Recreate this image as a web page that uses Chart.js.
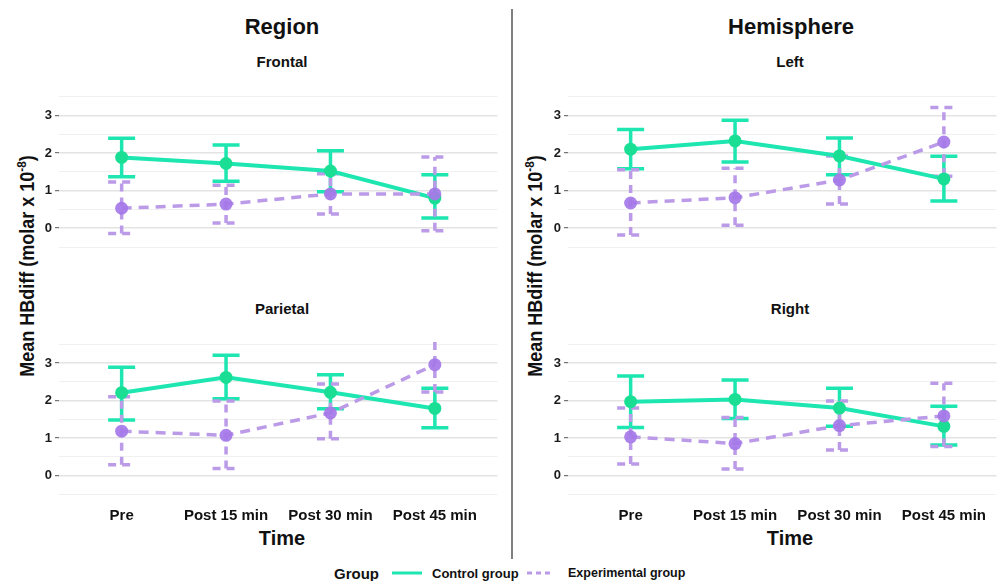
<!DOCTYPE html>
<html><head><meta charset="utf-8">
<script src="https://cdn.jsdelivr.net/npm/chart.js@4.4.1/dist/chart.umd.min.js"></script>
<style>
html,body{margin:0;padding:0;background:#fff;overflow:hidden}
#wrap{position:relative;width:1003px;height:581px;background:#fff;font-family:"Liberation Sans",Arial,Helvetica,sans-serif;color:#111}
canvas{position:absolute}
.t{position:absolute;white-space:nowrap;transform:translate(-50%,-50%);font-weight:bold;line-height:1}
.l{position:absolute;white-space:nowrap;transform:translateY(-50%);font-weight:bold;line-height:1}
</style></head><body>
<div id="wrap">
  <div class="t" style="left:282px;top:27px;font-size:22px">Region</div>
  <div class="t" style="left:791px;top:27px;font-size:22px">Hemisphere</div>
  <div class="t" style="left:282px;top:61px;font-size:15px">Frontal</div>
  <div class="t" style="left:790px;top:61px;font-size:15px">Left</div>
  <div class="t" style="left:282px;top:308px;font-size:15px">Parietal</div>
  <div class="t" style="left:790px;top:308px;font-size:15px">Right</div>
  <div class="t" style="left:282px;top:538px;font-size:20px">Time</div>
  <div class="t" style="left:790px;top:538px;font-size:20px">Time</div>
  <div class="t" style="left:27px;top:266px;font-size:20px;transform:translate(-50%,-50%) rotate(-90deg) scaleX(0.9)">Mean HBdiff (molar x 10<sup style="font-size:13px;vertical-align:8px;line-height:0">-8</sup>)</div>
  <div class="t" style="left:535px;top:266px;font-size:20px;transform:translate(-50%,-50%) rotate(-90deg) scaleX(0.9)">Mean HBdiff (molar x 10<sup style="font-size:13px;vertical-align:8px;line-height:0">-8</sup>)</div>
  <div style="position:absolute;left:511px;top:9px;width:1.5px;height:550px;background:#808080"></div>
  <div class="l" style="left:334px;top:573px;font-size:15px">Group</div>
  <svg style="position:absolute;left:390px;top:566px" width="34" height="14"><line x1="2" y1="7" x2="32" y2="7" stroke="#1DE6B0" stroke-width="3"/></svg>
  <div class="l" style="left:432px;top:573px;font-size:13px">Control group</div>
  <svg style="position:absolute;left:524px;top:566px" width="34" height="14"><line x1="3" y1="7" x2="30" y2="7" stroke="#BB9BE8" stroke-width="3" stroke-dasharray="5 4"/></svg>
  <div class="l" style="left:568px;top:573px;font-size:12.5px">Experimental group</div>
  <canvas id="c1" width="503" height="197" style="left:1px;top:90px"></canvas>
  <canvas id="c2" width="493" height="197" style="left:510px;top:90px"></canvas>
  <canvas id="c3" width="503" height="196" style="left:1px;top:338px"></canvas>
  <canvas id="c4" width="493" height="196" style="left:510px;top:338px"></canvas>
</div>
<script>
const categories = ['Pre', 'Post 15 min', 'Post 30 min', 'Post 45 min'];
const yTicks = [0, 1, 2, 3];

// Frontal
const frontalCtrl   = [1.88, 1.72, 1.52, 0.80];
const frontalCtrlLo = [1.37, 1.25, 0.97, 0.27];
const frontalCtrlHi = [2.39, 2.21, 2.06, 1.42];
const frontalExp    = [0.53, 0.64, 0.91, 0.91];
const frontalExpLo  = [-0.14, 0.14, 0.38, -0.07];
const frontalExpHi  = [1.23, 1.14, 1.45, 1.89];
// Left
const leftCtrl   = [2.10, 2.32, 1.92, 1.31];
const leftCtrlLo = [1.58, 1.76, 1.42, 0.72];
const leftCtrlHi = [2.62, 2.87, 2.40, 1.91];
const leftExp    = [0.67, 0.81, 1.28, 2.29];
const leftExpLo  = [-0.18, 0.08, 0.64, 1.38];
const leftExpHi  = [1.55, 1.59, 1.92, 3.21];
// Parietal
const parietalCtrl   = [2.21, 2.62, 2.22, 1.79];
const parietalCtrlLo = [1.48, 2.05, 1.78, 1.27];
const parietalCtrlHi = [2.89, 3.21, 2.69, 2.33];
const parietalExp    = [1.18, 1.07, 1.67, 2.96];
const parietalExpLo  = [0.28, 0.18, 0.98, 2.23];
const parietalExpHi  = [2.10, 1.99, 2.44, 3.72];
// Right
const rightCtrl   = [1.97, 2.03, 1.80, 1.31];
const rightCtrlLo = [1.28, 1.52, 1.31, 0.81];
const rightCtrlHi = [2.66, 2.55, 2.33, 1.85];
const rightExp    = [1.03, 0.85, 1.33, 1.59];
const rightExpLo  = [0.30, 0.17, 0.68, 0.77];
const rightExpHi  = [1.80, 1.55, 1.99, 2.46];

const CTRL_LINE = '#1DE6B0', CTRL_PT = '#1ADE94';
const EXP_LINE = '#BB9BE8', EXP_PT = 'rgba(164,120,232,0.92)';
const FONT = '"Liberation Sans", Arial, Helvetica, sans-serif';

const errorBars = {
  id: 'errorBars',
  beforeDatasetsDraw(chart) {
    const ctx = chart.ctx, xs = chart.scales.x, ys = chart.scales.y;
    ctx.save();
    for (const di of [0, 1]) {
      const ds = chart.data.datasets[di];
      ctx.strokeStyle = ds.barColor;
      ctx.lineWidth = ds.barWidth;
      ctx.setLineDash(ds.barDash);
      ds.data.forEach((p, i) => {
        const x = xs.getPixelForValue(p.x);
        const yl = ys.getPixelForValue(ds.errLo[i]);
        const yh = ys.getPixelForValue(ds.errHi[i]);
        const hw = 13.5;
        ctx.beginPath();
        ctx.moveTo(x, yl); ctx.lineTo(x, yh);
        ctx.moveTo(x - hw, yl); ctx.lineTo(x + hw, yl);
        ctx.moveTo(x - hw, yh); ctx.lineTo(x + hw, yh);
        ctx.stroke();
      });
    }
    ctx.restore();
  }
};

function makeChart(id, ctrl, cLo, cHi, exp, eLo, eHi, xmax, showX) {
  const toPts = arr => arr.map((v, i) => ({ x: i + 1, y: v }));
  return new Chart(document.getElementById(id), {
    type: 'line',
    data: {
      datasets: [
        { label: 'Control group', data: toPts(ctrl), errLo: cLo, errHi: cHi,
          borderColor: CTRL_LINE, borderWidth: 4, pointRadius: 6.5, pointHoverRadius: 6.5,
          pointBackgroundColor: CTRL_PT, pointBorderWidth: 0, order: 2,
          barColor: CTRL_LINE, barWidth: 3.5, barDash: [] },
        { label: 'Experimental group', data: toPts(exp), errLo: eLo, errHi: eHi,
          borderColor: EXP_LINE, borderWidth: 3.5, borderDash: [10, 7], pointRadius: 6.5, pointHoverRadius: 6.5,
          pointBackgroundColor: EXP_PT, pointBorderWidth: 0, order: 1,
          barColor: EXP_LINE, barWidth: 3.5, barDash: [8, 6] }
      ]
    },
    options: {
      responsive: false, animation: false, devicePixelRatio: 1,
      layout: { padding: 0 },
      plugins: { legend: { display: false }, tooltip: { enabled: false } },
      scales: {
        x: {
          type: 'linear', min: 0.4, max: xmax,
          afterBuildTicks: s => { s.ticks = categories.map((c, i) => ({ value: i + 1 })); },
          afterFit: s => { s.height = 40; s.paddingLeft = 0; s.paddingRight = 0; },
          grid: { display: false, drawTicks: false },
          border: { display: false },
          ticks: { display: true, padding: 13, color: showX ? '#111' : 'rgba(0,0,0,0)', maxRotation: 0, autoSkip: false,
                   font: { family: FONT, size: 15, weight: 'bold' },
                   callback: v => categories[Math.round(v) - 1] }
        },
        y: {
          min: -0.5, max: 3.5,
          afterBuildTicks: s => { s.ticks = [-0.5, 0, 0.5, 1, 1.5, 2, 2.5, 3, 3.5].map(v => ({ value: v })); },
          afterFit: s => { s.width = 58; s.paddingTop = 0; s.paddingBottom = 0; },
          border: { display: false },
          grid: {
            color: c => (yTicks.includes(c.tick.value) ? '#E3E3E3' : '#F0F0F0'),
            lineWidth: c => (yTicks.includes(c.tick.value) ? 1.4 : 1),
            tickColor: c => (yTicks.includes(c.tick.value) ? '#555' : 'rgba(0,0,0,0)'),
            tickLength: 4, tickWidth: 1
          },
          ticks: { padding: 3, autoSkip: false, color: '#1a1a1a', font: { family: FONT, size: 13, weight: 'bold' },
                   callback: v => (yTicks.includes(v) ? String(v) : '') }
        }
      }
    },
    plugins: [errorBars]
  });
}

makeChart('c1', frontalCtrl, frontalCtrlLo, frontalCtrlHi, frontalExp, frontalExpLo, frontalExpHi, 4.6, false);
makeChart('c2', leftCtrl, leftCtrlLo, leftCtrlHi, leftExp, leftExpLo, leftExpHi, 4.504, false);
makeChart('c3', parietalCtrl, parietalCtrlLo, parietalCtrlHi, parietalExp, parietalExpLo, parietalExpHi, 4.6, true);
makeChart('c4', rightCtrl, rightCtrlLo, rightCtrlHi, rightExp, rightExpLo, rightExpHi, 4.504, true);
</script>
</body></html>
